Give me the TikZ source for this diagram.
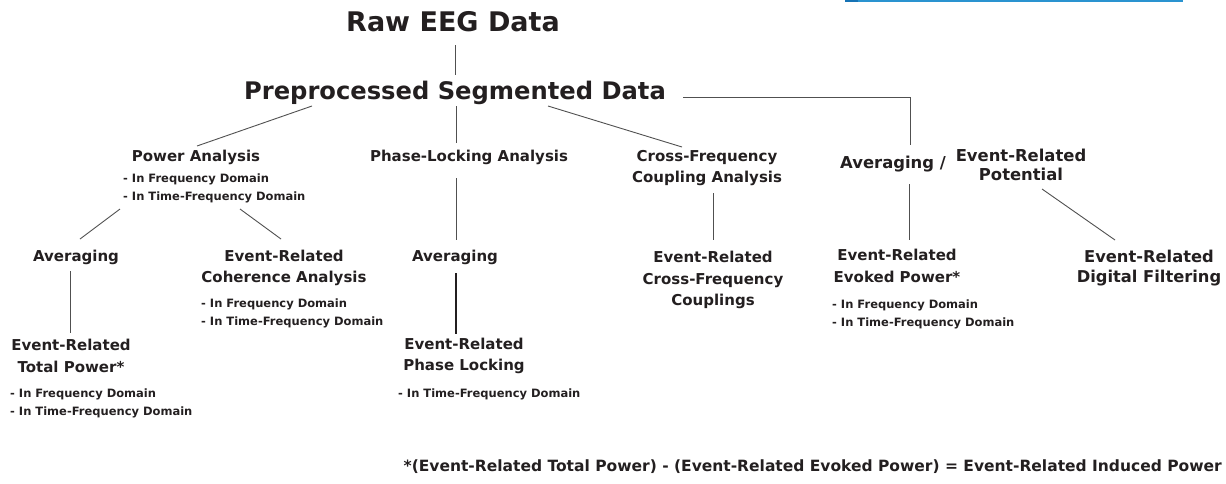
\documentclass[tikz,border=0pt]{standalone}
\usepackage{fontspec}
\setmainfont{DejaVu Sans}
\definecolor{txt}{HTML}{231F20}
\definecolor{lc}{HTML}{505050}
\definecolor{bluebar}{HTML}{2A93D0}
\definecolor{bluedark}{HTML}{1673B5}
\begin{document}
\begin{tikzpicture}[x=1pt,y=-1pt,
 lbl/.style={font=\bfseries\fontsize{15}{21.5}\selectfont, text=txt, align=center, inner sep=0pt},
 big/.style={lbl, font=\bfseries\fontsize{16.4}{19}\selectfont},
 sub/.style={font=\bfseries\fontsize{11.5}{18}\selectfont, text=txt, align=left, inner sep=0pt, anchor=north west},
 conn/.style={draw=lc, line width=0.9pt}]
\useasboundingbox (0,0) rectangle (1226,483);
% partial blue frame at the top edge
\fill[bluebar] (845,0) rectangle (1183,2);
\fill[bluedark] (845,0) rectangle (858,2);

% nodes
\node[lbl, font=\bfseries\fontsize{27}{30}\selectfont] (raw) at (453,22) {Raw EEG Data};
\node[lbl, font=\bfseries\fontsize{24.2}{28}\selectfont] (pre) at (455,93) {Preprocessed Segmented Data};

\node[lbl] (pa) at (196,157) {Power Analysis};
\node[sub] (pasub) at (123,174) {- In Frequency Domain\\- In Time-Frequency Domain};
\node[lbl] (pl) at (469,157) {Phase-Locking Analysis};
\node[lbl] (cf) at (707,168) {Cross-Frequency\\Coupling Analysis};
\node[big] (avs) at (893,164) {Averaging /};
\node[big] (erp) at (1021,165) {Event-Related\\Potential};

\node[lbl] (av1) at (76,257) {Averaging};
\node[lbl] (coh) at (284,268) {Event-Related\\Coherence Analysis};
\node[sub] (cohsub) at (201,299) {- In Frequency Domain\\- In Time-Frequency Domain};
\node[lbl] (av2) at (455,257) {Averaging};
\node[lbl] (ecf) at (713,280) {Event-Related\\Cross-Frequency\\Couplings};
\node[lbl] (eep) at (897,266) {Event-Related\\Evoked Power*};
\node[sub] (eepsub) at (832,300) {- In Frequency Domain\\- In Time-Frequency Domain};
\node[lbl, font=\bfseries\fontsize{16.3}{20.5}\selectfont] (edf) at (1149,268) {Event-Related\\Digital Filtering};

\node[lbl] (etp) at (71,356) {Event-Related\\Total Power*};
\node[sub] (etpsub) at (10,389) {- In Frequency Domain\\- In Time-Frequency Domain};
\node[lbl] (epl) at (464,356) {Event-Related\\Phase Locking};
\node[sub] (eplsub) at (398,389) {- In Time-Frequency Domain};

\node[lbl, font=\bfseries\fontsize{15.5}{18}\selectfont, anchor=east] (foot) at (1222,467)
 {*(Event-Related Total Power) - (Event-Related Evoked Power) = Event-Related Induced Power};

% connector end points
\coordinate (raw-b) at (455,45);  \coordinate (pre-t) at (455,75);
\coordinate (pre-r) at (683,97);  \coordinate (corner) at (910,97); \coordinate (avs-t) at (910,145);
\coordinate (pre-l) at (312,106); \coordinate (pa-t) at (197,146);
\coordinate (pre-m) at (456,106); \coordinate (pl-t) at (456,143);
\coordinate (pre-c) at (548,106); \coordinate (cf-t) at (682,147);
\coordinate (pa-bl) at (120,209); \coordinate (av1-t) at (80,239);
\coordinate (pa-br) at (240,209); \coordinate (coh-t) at (281,239);
\coordinate (av1-b) at (70,271);  \coordinate (etp-t) at (70,333);
\coordinate (pl-b) at (456,178);  \coordinate (av2-t) at (456,240);
\coordinate (av2-b) at (456,273); \coordinate (epl-t) at (456,334);
\coordinate (cf-b) at (713,193);  \coordinate (ecf-t) at (713,240);
\coordinate (avs-b) at (909,184); \coordinate (eep-t) at (909,240);
\coordinate (erp-b) at (1042,189); \coordinate (edf-t) at (1115,240);

% connectors
\draw[conn] (raw-b) -- (pre-t);
\draw[conn] (pre-r) -- (corner) -- (avs-t);
\draw[conn] (pre-l) -- (pa-t);
\draw[conn] (pre-m) -- (pl-t);
\draw[conn] (pre-c) -- (cf-t);
\draw[conn] (pa-bl) -- (av1-t);
\draw[conn] (pa-br) -- (coh-t);
\draw[conn] (av1-b) -- (etp-t);
\draw[conn] (pl-b) -- (av2-t);
\draw[conn, draw=txt, line width=1.4pt] (av2-b) -- (epl-t);
\draw[conn] (cf-b) -- (ecf-t);
\draw[conn] (avs-b) -- (eep-t);
\draw[conn] (erp-b) -- (edf-t);
\end{tikzpicture}
\end{document}
